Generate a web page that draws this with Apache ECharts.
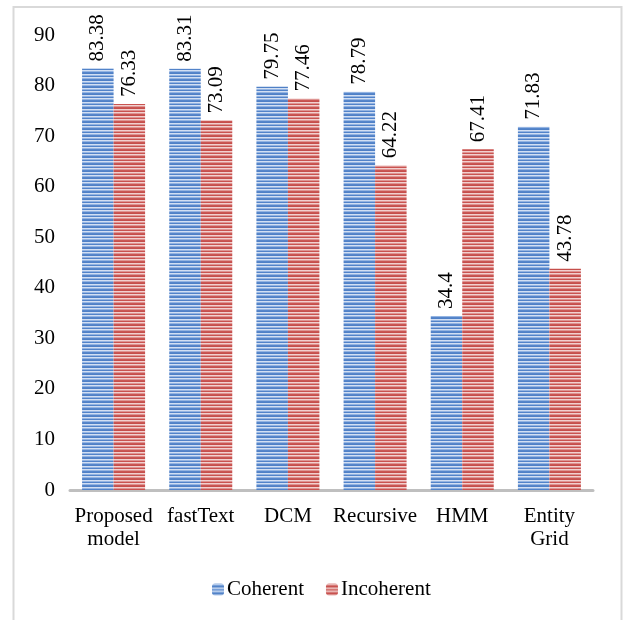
<!DOCTYPE html>
<html>
<head>
<meta charset="utf-8">
<script src="https://cdn.jsdelivr.net/npm/echarts@6/dist/echarts.min.js"></script>
<style>
  html, body { margin: 0; padding: 0; background: #ffffff; }
  #chart { width: 624px; height: 620px; }
</style>
</head>
<body>
<div id="chart"></div>
<script>
// Accuracy of each model on coherent vs. incoherent documents
const categories = ['Proposed\nmodel', 'fastText', 'DCM', 'Recursive', 'HMM', 'Entity\nGrid'];
const coherent = [83.38, 83.31, 79.75, 78.79, 34.4, 71.83];
const incoherent = [76.33, 73.09, 77.46, 64.22, 67.41, 43.78];
const yTicks = { min: 0, max: 90, interval: 10 };

// Horizontal stripe fill used for the bars and legend swatches
function stripes(rows) {
  const c = document.createElement('canvas');
  c.width = 4;
  c.height = rows.length;
  const ctx = c.getContext('2d');
  rows.forEach((col, i) => {
    ctx.fillStyle = col;
    ctx.fillRect(0, i, 4, 1);
  });
  return { image: c, repeat: 'repeat' };
}

const blueFill = stripes(['#d2dff3', '#94b4e2', '#5686cb', '#4f80c6', '#d2dff3', '#94b4e2', '#5283c9']);
const redFill = stripes(['#f2d0cf', '#de9593', '#cb5653', '#c54e4b', '#f2d0cf', '#de9593', '#c95350']);

const font = 'Liberation Serif, Times New Roman, serif';

const valueLabel = {
  show: true,
  position: 'top',
  distance: 7,
  rotate: 90,
  align: 'left',
  verticalAlign: 'middle',
  color: '#000',
  fontFamily: font,
  fontSize: 21
};

const chart = echarts.init(document.getElementById('chart'), null, { renderer: 'canvas' });
chart.setOption({
  animation: false,
  backgroundColor: '#ffffff',
  textStyle: { fontFamily: font },
  graphic: [{
    type: 'rect',
    shape: { x: 13.5, y: 7, width: 608, height: 700 },
    style: { fill: 'none', stroke: '#d9d9d9', lineWidth: 2 },
    silent: true,
    z: -10
  }],
  grid: { left: 70, right: 31, top: 35, bottom: 130, containLabel: false },
  legend: {
    bottom: 15,
    left: 207,
    itemWidth: 12,
    itemHeight: 12,
    itemGap: 22,
    textStyle: { fontFamily: font, fontSize: 21, color: '#000', padding: [0, 0, 0, -2] },
    data: ['Coherent', 'Incoherent']
  },
  xAxis: {
    type: 'category',
    data: categories,
    axisLine: { show: true, lineStyle: { color: '#bfbfbf', width: 3 } },
    axisTick: { show: false },
    axisLabel: {
      interval: 0,
      margin: 15,
      color: '#000',
      fontFamily: font,
      fontSize: 21,
      lineHeight: 23
    }
  },
  yAxis: {
    type: 'value',
    min: yTicks.min,
    max: yTicks.max,
    interval: yTicks.interval,
    axisLine: { show: false },
    axisTick: { show: false },
    splitLine: { show: false },
    axisLabel: {
      margin: 15,
      color: '#000',
      fontFamily: font,
      fontSize: 21
    }
  },
  series: [
    {
      name: 'Coherent',
      type: 'bar',
      data: coherent,
      barWidth: 31.5,
      barGap: '0%',
      itemStyle: { color: blueFill },
      label: valueLabel
    },
    {
      name: 'Incoherent',
      type: 'bar',
      data: incoherent,
      barWidth: 31.5,
      barGap: '0%',
      itemStyle: { color: redFill },
      label: valueLabel
    }
  ]
});
</script>
</body>
</html>
